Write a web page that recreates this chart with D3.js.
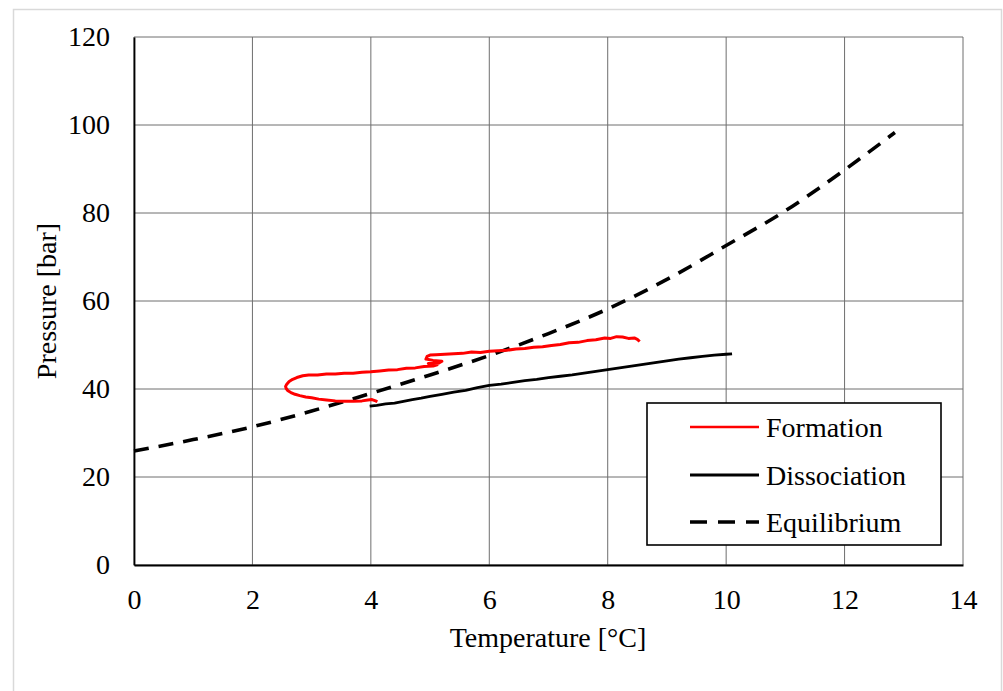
<!DOCTYPE html>
<html><head><meta charset="utf-8">
<script src="https://cdn.jsdelivr.net/npm/d3@7"></script>
<style>body{margin:0;background:#fff;} text{font-family:"Liberation Serif","Times New Roman",serif;}</style>
</head><body>
<svg id="chart" width="1003" height="691"></svg>
<script>
const xTicks = [0,2,4,6,8,10,12,14];
const yTicks = [0,20,40,60,80,100,120];
const seriesNames = ["Formation","Dissociation","Equilibrium"];

// Formation: [T, P]
const formationT = [8.54,8.50,8.45,8.35,8.25,8.15,8.05,7.95,7.80,7.65,7.50,7.35,7.20,7.05,6.90,6.75,6.60,6.45,6.30,6.15,6.00,5.85,5.70,5.55,5.40,5.25,5.10,5.00,4.95,4.93,5.05,5.20,5.15,4.97,5.12,5.05,4.90,4.75,4.60,4.45,4.30,4.15,4.00,3.85,3.70,3.55,3.40,3.25,3.10,2.95,2.85,2.75,2.68,2.62,2.58,2.56,2.57,2.60,2.65,2.72,2.80,2.90,3.00,3.12,3.25,3.40,3.55,3.70,3.85,3.95,4.02,4.08,4.11];
const formationP = [50.8,51.3,51.6,51.5,51.8,51.9,51.5,51.6,51.2,51.0,50.6,50.5,50.1,49.9,49.6,49.5,49.2,49.1,48.8,48.7,48.6,48.3,48.4,48.1,48.0,47.9,47.8,47.7,47.4,46.8,46.5,46.3,45.9,45.8,45.5,45.2,45.1,44.8,44.7,44.4,44.3,44.1,43.9,43.8,43.6,43.6,43.4,43.4,43.2,43.2,43.0,42.6,42.2,41.7,41.1,40.6,40.1,39.6,39.2,38.8,38.5,38.2,38.0,37.7,37.5,37.3,37.2,37.2,37.3,37.5,37.6,37.3,37.1];

const dissociationT = [3.98,4.10,4.25,4.40,4.55,4.70,4.85,5.00,5.20,5.40,5.60,5.80,6.00,6.20,6.40,6.60,6.80,7.00,7.20,7.40,7.60,7.80,8.00,8.20,8.40,8.60,8.80,9.00,9.20,9.40,9.60,9.80,10.00,10.10];
const dissociationP = [36.1,36.3,36.6,36.8,37.2,37.6,37.9,38.3,38.8,39.3,39.7,40.3,40.8,41.1,41.5,41.9,42.2,42.6,42.9,43.2,43.6,44.0,44.4,44.8,45.2,45.6,46.0,46.4,46.8,47.1,47.4,47.7,47.9,48.0];

const equilibriumT = [0,1,2,3,4,5,6,7,8,9,10,11,12,12.85];
const equilibriumP = [25.9,28.5,31.4,35.0,39.0,43.2,47.6,52.6,58.2,64.9,72.6,80.5,89.8,98.3];

const svg = d3.select("#chart");
const L = 134, R = 963, T = 37, B = 565;
const x = d3.scaleLinear().domain([0,14]).range([L,R]);
const y = d3.scaleLinear().domain([0,120]).range([B,T]);
const FS = 28;

// outer border
svg.append("rect").attr("x",13.5).attr("y",9.5).attr("width",988).attr("height",700)
  .attr("fill","#fff").attr("stroke","#d9d9d9").attr("stroke-width",1.5);

// grid
svg.append("g").selectAll("line").data(xTicks).join("line")
  .attr("x1",d=>x(d)).attr("x2",d=>x(d)).attr("y1",T).attr("y2",B)
  .attr("stroke","#6e6e6e").attr("stroke-width",1);
svg.append("g").selectAll("line").data(yTicks).join("line")
  .attr("y1",d=>y(d)).attr("y2",d=>y(d)).attr("x1",L).attr("x2",R)
  .attr("stroke","#6e6e6e").attr("stroke-width",1);

// axes
const xAxis = d3.axisBottom(x).tickValues(xTicks).tickSize(0).tickPadding(24);
const gx = svg.append("g").attr("transform",`translate(0,${B})`).call(xAxis);
gx.select(".domain").attr("stroke","#000").attr("stroke-width",1.8);
gx.selectAll("text").attr("font-size",FS).attr("font-family","Liberation Serif").attr("fill","#000");
const yAxis = d3.axisLeft(y).tickValues(yTicks).tickSize(0).tickPadding(24);
const gy = svg.append("g").attr("transform",`translate(${L},0)`).call(yAxis);
gy.select(".domain").attr("stroke","#000").attr("stroke-width",1.8);
gy.selectAll("text").attr("font-size",FS).attr("font-family","Liberation Serif").attr("fill","#000");

// titles
svg.append("text").attr("x",548).attr("y",647).attr("text-anchor","middle")
  .attr("font-size",FS).text("Temperature [°C]");
svg.append("text").attr("transform","translate(56,301) rotate(-90)").attr("text-anchor","middle")
  .attr("font-size",FS).text("Pressure [bar]");

const line = d3.line().x(d=>x(d[0])).y(d=>y(d[1]));
const eq = equilibriumT.map((t,i)=>[t,equilibriumP[i]]);
const fo = formationT.map((t,i)=>[t,formationP[i]]);
const di = dissociationT.map((t,i)=>[t,dissociationP[i]]);

svg.append("path").attr("d",d3.line().curve(d3.curveMonotoneX).x(d=>x(d[0])).y(d=>y(d[1]))(eq))
  .attr("fill","none").attr("stroke","#000").attr("stroke-width",3.6).attr("stroke-dasharray","15,10");
svg.append("path").attr("d",line(di)).attr("fill","none").attr("stroke","#000").attr("stroke-width",2.8).attr("stroke-linejoin","round");
svg.append("path").attr("d",line(fo)).attr("fill","none").attr("stroke","#ff0000").attr("stroke-width",3).attr("stroke-linejoin","round");

// legend
const lg = svg.append("g");
lg.append("rect").attr("x",647).attr("y",403).attr("width",294).attr("height",142)
  .attr("fill","#fff").attr("stroke","#000").attr("stroke-width",1.6);
const styles = [{c:"#ff0000",w:2.6,d:null},{c:"#000",w:2.8,d:null},{c:"#000",w:3.6,d:"17,11"}];
const rowsY = [427,475,522];
seriesNames.forEach((n,i)=>{
  lg.append("line").attr("x1",690).attr("x2",759).attr("y1",rowsY[i]).attr("y2",rowsY[i])
    .attr("stroke",styles[i].c).attr("stroke-width",styles[i].w).attr("stroke-dasharray",styles[i].d);
  lg.append("text").attr("x",766).attr("y",rowsY[i]).attr("dy","0.35em").attr("font-size",FS).text(n);
});
</script>
</body></html>
